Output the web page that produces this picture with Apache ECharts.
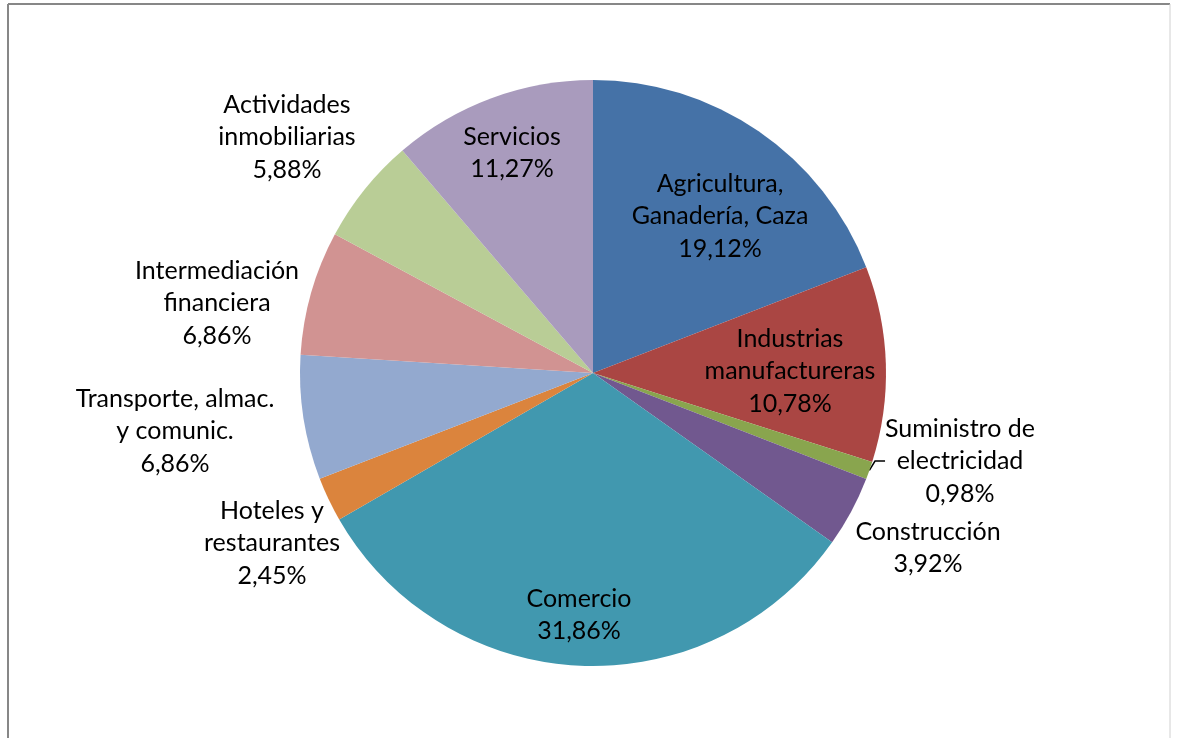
<!DOCTYPE html>
<html>
<head>
<meta charset="utf-8">
<script src="https://cdn.jsdelivr.net/npm/echarts@6/dist/echarts.min.js"></script>
<style>html,body{margin:0;padding:0;background:#fff;}#c{width:1177px;height:738px;}</style>
</head>
<body>
<div id="c"></div>
<script>
// ---- data ----
const categories = [
  "Agricultura,\nGanadería, Caza",
  "Industrias\nmanufactureras",
  "Suministro de\nelectricidad",
  "Construcción",
  "Comercio",
  "Hoteles y\nrestaurantes",
  "Transporte, almac.\ny comunic.",
  "Intermediación\nfinanciera",
  "Actividades\ninmobiliarias",
  "Servicios"
];
const values = [19.12, 10.78, 0.98, 3.92, 31.86, 2.45, 6.86, 6.86, 5.88, 11.27];

// ---- styles / layout ----
const colors = ["#4572A7", "#AA4643", "#89A54E", "#71588F", "#4198AF",
                "#DB843D", "#93A9CF", "#D19392", "#B9CD96", "#A99BBD"];
// label centre positions (layout only)
const labelCenters = [
  [720, 216], [790, 371], [960, 461], [928, 548], [579, 615],
  [272, 543], [175, 431], [217, 303], [287, 137], [512, 153]
];

const chart = echarts.init(document.getElementById('c'), null, {renderer: 'canvas'});
const fmt = v => v.toFixed(2).replace('.', ',') + '%';

chart.setOption({
  backgroundColor: '#ffffff',
  animation: false,
  color: colors,
  graphic: [
    {type: 'line', shape: {x1: 8, y1: 4, x2: 1170, y2: 4}, style: {stroke: '#878787', lineWidth: 2}},
    {type: 'line', shape: {x1: 8, y1: 4, x2: 8, y2: 740}, style: {stroke: '#878787', lineWidth: 2}},
    {type: 'line', shape: {x1: 1170, y1: 4, x2: 1170, y2: 740}, style: {stroke: '#d0d0d0', lineWidth: 1}}
  ],
  series: [{
    type: 'pie',
    center: [593, 373],
    radius: [0, 293],
    startAngle: 90,
    clockwise: true,
    avoidLabelOverlap: false,
    itemStyle: {borderWidth: 0},
    emphasis: {disabled: true},
    label: {
      show: true,
      position: 'outside',
      fontFamily: 'Lato',
      fontSize: 25,
      lineHeight: 32.5,
      color: '#000',
      align: 'center',
      formatter: p => p.name + '\n' + fmt(p.value)
    },
    labelLine: {show: false},
    labelLayout: function (params) {
      const c = labelCenters[params.dataIndex];
      return {x: c[0], y: c[1], align: 'center', verticalAlign: 'middle'};
    },
    data: categories.map((n, i) => {
      const d = {name: n, value: values[i]};
      if (i === 2) {
        d.labelLine = {show: true, length: 8, length2: 10, lineStyle: {color: '#000', width: 1.5}};
      }
      return d;
    })
  }]
});
</script>
</body>
</html>
